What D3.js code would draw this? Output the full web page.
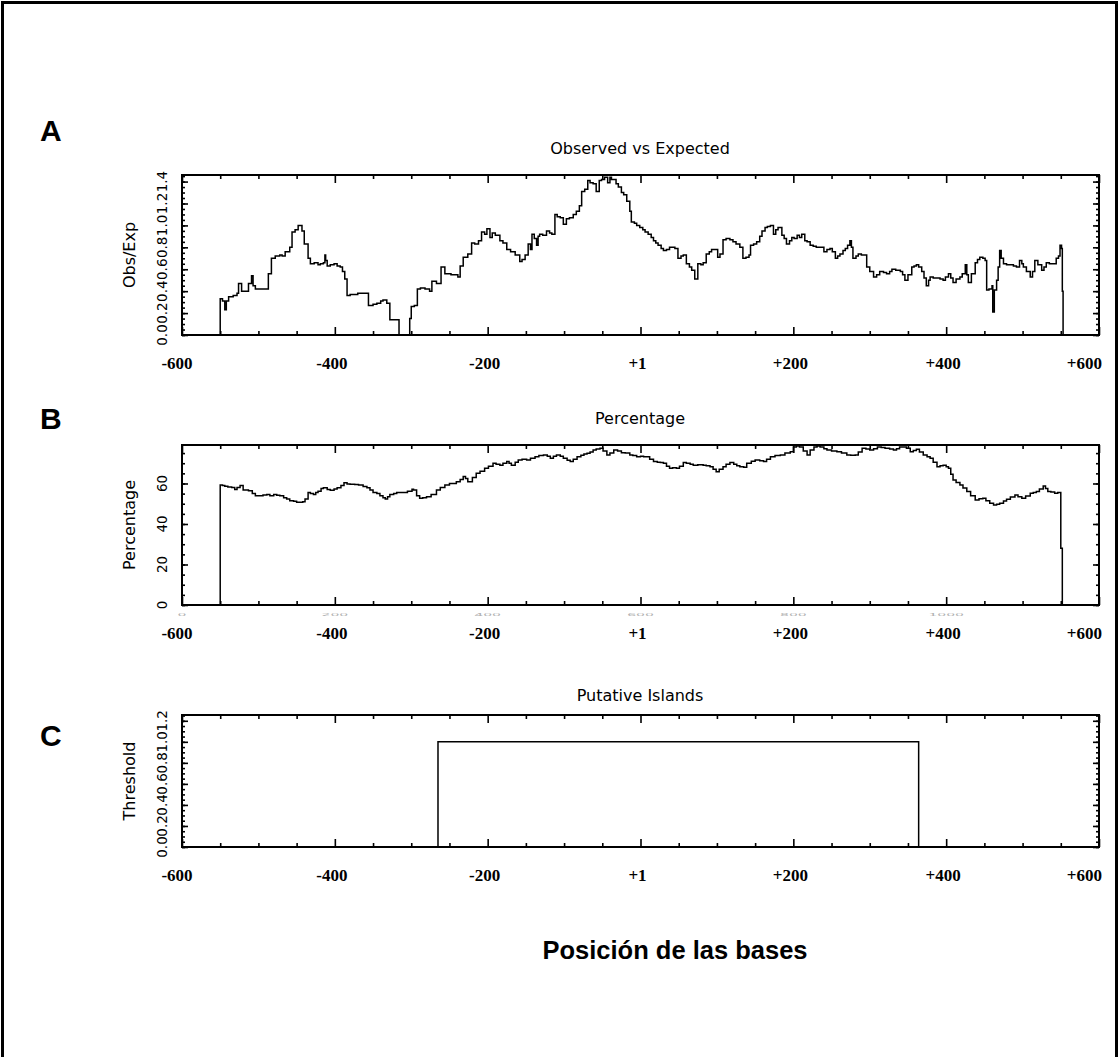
<!DOCTYPE html>
<html><head><meta charset="utf-8">
<script src="https://cdn.jsdelivr.net/npm/d3@7"></script>
<style>body{margin:0;background:#fff;} svg{display:block;}</style>
</head><body><svg id="c" width="1119" height="1057"></svg>
<script>
// ---------- DATA ----------
const xTickLabels = ["-600","-400","-200","+1","+200","+400","+600"];
const xTickValues = [0,200,400,600,800,1000,1200];
const hiddenTickLabels = ["0","200","400","600","800","1000"];
const panelLetters = ["A","B","C"];
const panelTitles = ["Observed vs Expected","Percentage","Putative Islands"];
const yAxisTitles = ["Obs/Exp","Percentage","Threshold"];
const xAxisTitle = "Posición de las bases";

const obsExpPos = [50,50,53,56,58,61,67,72,74,76,78,85,87,91,93,96,111,113,117,122,128,131,135,141,144,148,152,157,160,165,168,173,178,181,185,187,188,190,194,199,203,207,210,213,216,220,230,242,244,250,255,260,263,268,272,283,284,296,
298,300,304,308,312,318,324,327,333,339,344,352,361,364,368,374,379,383,388,392,396,399,403,406,410,416,420,425,430,436,442,445,449,453,456,458,461,464,466,468,472,477,481,484,488,491,495,499,503,507,512,516,520,523,527,531,534,538,542,546,549,553,557,560,562,566,568,571,575,578,582,586,588,592,595,599,603,606,610,614,617,620,623,627,630,634,638,642,645,649,653,656,660,664,667,671,675,679,682,686,690,693,697,701,704,708,712,717,
721,725,730,734,738,742,744,748,752,756,759,763,766,770,774,777,780,785,788,791,795,798,801,805,808,811,815,818,822,826,830,835,840,844,848,851,855,858,861,865,868,871,874,876,878,882,885,889,892,896,900,905,909,913,918,922,926,929,934,940,943,946,950,955,958,961,964,968,971,974,977,979,983,988,992,996,999,1003,1006,1009,1013,1018,1021,1025,1027,1029,1033,1038,1041,1044,1048,1051,1053,1056,1060,1061,1063,1066,1068,1070,1072,1075,1079,1083,1088,1092,1096,1099,1101,1105,1110,1113,1116,1120,1125,1128,1131,1135,1140,1144,1147,1149,1151,1152,1153];
const obsExpVal = [0,0.33,0.31,0.23,0.31,0.35,0.36,0.38,0.47,0.47,0.40,0.40,0.47,0.54,0.45,0.42,0.42,0.56,0.70,0.72,0.73,0.72,0.76,0.80,0.94,0.96,1.00,0.95,0.83,0.70,0.65,0.66,0.64,0.65,0.66,0.73,0.68,0.63,0.64,0.65,0.63,0.62,0.58,0.51,0.36,0.37,0.38,0.38,0.27,0.28,0.29,0.31,0.32,0.29,0.14,0.14,0,0,
0.15,0.26,0.27,0.42,0.43,0.42,0.40,0.49,0.47,0.62,0.56,0.55,0.53,0.63,0.71,0.74,0.84,0.83,0.86,0.94,0.92,0.97,0.89,0.93,0.91,0.86,0.84,0.78,0.76,0.73,0.67,0.69,0.73,0.83,0.78,0.92,0.88,0.82,0.90,0.92,0.91,0.95,0.93,0.92,1.10,1.08,1.07,1.01,1.06,1.07,1.10,1.13,1.18,1.31,1.33,1.41,1.39,1.38,1.31,1.41,1.42,1.44,1.39,1.44,1.42,1.42,1.38,1.35,1.30,1.28,1.22,1.13,1.03,1.02,1.00,0.98,0.96,0.94,0.92,0.89,0.86,0.84,0.82,0.79,0.77,0.78,0.80,0.80,0.79,0.70,0.72,0.73,0.65,0.62,0.59,0.51,0.65,0.64,0.66,0.74,0.76,0.78,0.78,0.71,0.74,0.87,0.88,0.87,
0.85,0.83,0.80,0.70,0.71,0.73,0.82,0.83,0.85,0.90,0.95,0.98,0.99,1.00,0.92,0.96,0.98,0.91,0.88,0.83,0.86,0.89,0.88,0.91,0.89,0.92,0.86,0.85,0.82,0.81,0.80,0.80,0.76,0.78,0.79,0.76,0.70,0.72,0.74,0.77,0.79,0.82,0.86,0.80,0.70,0.72,0.74,0.73,0.73,0.62,0.58,0.53,0.55,0.58,0.57,0.56,0.58,0.60,0.59,0.58,0.55,0.50,0.55,0.62,0.63,0.64,0.62,0.58,0.52,0.45,0.50,0.53,0.52,0.52,0.51,0.50,0.53,0.56,0.52,0.48,0.51,0.53,0.56,0.64,0.55,0.48,0.56,0.66,0.69,0.71,0.70,0.68,0.41,0.42,0.45,0.21,0.41,0.50,0.62,0.77,0.70,0.65,0.64,0.64,0.63,0.62,0.68,0.65,0.62,0.58,0.53,0.58,0.68,0.64,0.59,0.62,0.66,0.65,0.65,0.70,0.72,0.82,0.79,0.40,0];

const percentPos = [50,50,53,56,60,65,69,72,76,80,87,92,96,102,106,111,115,120,124,128,133,137,141,146,150,155,158,161,165,168,172,175,178,182,185,190,194,199,203,208,212,216,220,226,231,237,242,246,250,255,259,263,266,269,272,277,281,285,290,295,301,303,307,311,315,320,326,333,338,344,350,359,364,368,371,374,380,385,390,396,401,407,411,416,420,425,428,431,436,440,445,451,456,462,467,473,478,482,486,490,495,499,504,508,512,517,522,526,530,534,538,542,547,551,556,560,565,570,575,580,586,590,595,600,604,608,612,617,622,626,630,634,638,642,647,651,656,660,665,669,675,682,686,691,695,699,703,708,712,717,722,726,730,735,739,745,750,756,761,765,770,776,783,789,796,800,804,808,813,818,822,827,831,835,840,844,850,857,863,870,875,881,885,890,895,900,905,910,915,920,926,931,935,939,944,948,953,957,961,965,970,975,979,983,988,992,996,1000,1003,1006,1009,1013,1018,1022,1027,1032,1038,1043,1048,1052,1057,1062,1066,1070,1075,1079,1084,1090,1094,1099,1104,1110,1114,1118,1122,1127,1130,1133,1137,1142,1146,1149,1150,1152,1152];
const percentVal = [0,59.3,59,58.6,58.3,58,57,58,59,56.8,56.4,55,54,54,54.3,54.6,54,54.6,54.2,54,53,52.3,51.5,51.2,50.7,50.7,51,52.3,55.6,55,54.6,55.5,56.2,57.5,57.9,57,56.6,57.3,57.9,59,60.4,59.8,59.6,59.5,59.3,58.5,57.9,56.8,55.6,55,54,53,52.3,53.5,54.6,55,55.6,55.6,55.6,56.2,57.1,56.8,54,52.7,53,53.5,54.5,56.8,58,59.3,60,60.9,62,63.4,62.5,60.9,63,65,66,67.5,68.5,70,69.5,69,70,70.8,70,69,70.5,71.6,72,71.6,72.5,73.2,73.8,74.1,73.5,72.4,73.5,74.1,73.5,72.4,71.5,70.8,72,73.2,74,74.5,74.9,75.5,76.5,77,77.4,76,74.1,75,76.5,76,75.2,75,74.1,73.8,73.2,73.5,73.2,73.2,72,70.8,70.5,70.3,70,68.5,67.5,67.8,67.5,68.5,70.3,70,69.5,69,69.2,69,68.8,68.3,67,65.8,67,68.3,69.5,70.3,69.5,68.8,68.3,68,70,71,71.6,71.2,70.8,72,73.2,73.8,74.1,75,75.7,78,78.5,78,76,74.1,76.5,78,78.5,78,77.2,76.5,76,75.7,75,74.1,74,74.1,75.5,77.4,77,76.5,77.2,78,77.8,77.4,77,76.5,77.2,78,78,77.4,75.7,76.3,76.9,75.5,74.1,73.2,72.4,70.5,68.3,68.8,69,68.3,67.5,64.5,61.7,60.5,59.3,57.8,56,54,51.9,52.5,52.7,51.5,50.2,49.4,49.8,50.2,51.3,52.2,53.3,54.3,53.5,52.7,53.8,55.2,55.6,56,57.3,58.8,57.5,56,55.8,55.2,55.5,55.5,28,28,0];

const islandPos = [50,335,335,964,964,1150];
const islandVal = [0,0,1,1,0,0];

const obsExpTicks = [0,0.2,0.4,0.6,0.8,1.0,1.2,1.4];
const percentTicks = [0,20,40,60];
const thresholdTicks = [0,0.2,0.4,0.6,0.8,1.0,1.2];

// ---------- LAYOUT ----------
const svg = d3.select("#c");
svg.append("rect").attr("width",1119).attr("height",1057).attr("fill","#fff");
svg.append("path").attr("d","M2.5,1070V2.5H1116.5V1070")
  .attr("fill","none").attr("stroke","#000").attr("stroke-width",3);

const x = d3.scaleLinear().domain([0,1200]).range([182,1099]);

const panels = [
  {top:175, h:160, ymax:1.46, pos:obsExpPos, val:obsExpVal, ticks:obsExpTicks, fmt:d3.format(".1f"), minor:0.05, step:true, letterY:130, titleY:148},
  {top:445, h:160, ymax:79, pos:percentPos, val:percentVal, ticks:percentTicks, fmt:d3.format("d"), minor:5, step:true, letterY:418, titleY:418},
  {top:715, h:132, ymax:1.255, pos:islandPos, val:islandVal, ticks:thresholdTicks, fmt:d3.format(".1f"), minor:0.05, step:false, letterY:735, titleY:695}
];

const FONT = "'DejaVu Sans', sans-serif";

panels.forEach((p,i)=>{
  const bottom = p.top + p.h;
  const y = d3.scaleLinear().domain([0,p.ymax]).range([bottom, p.top]);
  const g = svg.append("g");
  const clipId = "clip"+i;
  svg.append("clipPath").attr("id",clipId).append("rect")
    .attr("x",182).attr("y",p.top-1).attr("width",917).attr("height",p.h+2);

  const pts = p.pos.map((d,k)=>[d,p.val[k]]);
  const line = d3.line().x(d=>x(d[0])).y(d=>y(d[1]))
    .curve(p.step ? d3.curveStepAfter : d3.curveLinear);
  g.append("path").datum(pts).attr("d",line)
    .attr("clip-path",`url(#${clipId})`)
    .attr("fill","none").attr("stroke","#000").attr("stroke-width",1.5)
    .attr("stroke-linejoin","miter");

  // axes (inward ticks)
  const xMajor = d3.range(0,1201,200), xMinor = d3.range(0,1201,50).filter(v=>v%200);
  const yMinor = d3.range(0,p.ymax+1e-9,p.minor);
  const mk = (axis, vals, size, tr) => {
    const a = g.append("g").attr("transform",tr)
      .call(axis.tickValues(vals).tickSize(size).tickSizeOuter(0).tickFormat(""));
    a.select(".domain").remove();
    a.selectAll("line").attr("stroke-width",1.6);
  };
  mk(d3.axisBottom(x), xMajor, -8, `translate(0,${bottom})`);
  mk(d3.axisBottom(x), xMinor, -4, `translate(0,${bottom})`);
  mk(d3.axisTop(x), xMajor, -8, `translate(0,${p.top})`);
  mk(d3.axisTop(x), xMinor, -4, `translate(0,${p.top})`);
  mk(d3.axisLeft(y), p.ticks, -6, `translate(182,0)`);
  mk(d3.axisLeft(y), yMinor, -3, `translate(182,0)`);
  mk(d3.axisRight(y), p.ticks, -6, `translate(1099,0)`);
  mk(d3.axisRight(y), yMinor, -3, `translate(1099,0)`);

  g.append("rect").attr("x",182).attr("y",p.top).attr("width",917).attr("height",p.h)
    .attr("fill","none").attr("stroke","#000").attr("stroke-width",2);

  // y tick labels (rotated)
  g.selectAll("text.yt").data(p.ticks).join("text").attr("class","yt")
    .attr("transform",d=>`translate(162,${y(d)}) rotate(-90)`)
    .attr("text-anchor","middle").attr("dominant-baseline","central")
    .attr("font-family",FONT).attr("font-size",13.5).text(p.fmt);

  // y axis title
  g.append("text").attr("transform",`translate(129,${p.top+p.h/2}) rotate(-90)`)
    .attr("text-anchor","middle").attr("dominant-baseline","central")
    .attr("font-family",FONT).attr("font-size",16).text(yAxisTitles[i]);

  // panel title
  g.append("text").attr("x",640).attr("y",p.titleY).attr("text-anchor","middle")
    .attr("dominant-baseline","central").attr("font-family",FONT).attr("font-size",16)
    .text(panelTitles[i]);

  // panel letter
  g.append("text").attr("x",40).attr("y",p.letterY).attr("dominant-baseline","central")
    .attr("font-family","'Liberation Sans', Arial, sans-serif").attr("font-weight","bold")
    .attr("font-size",30).text(panelLetters[i]);

  // x labels (custom, bold serif)
  g.selectAll("text.xl").data(xTickValues).join("text").attr("class","xl")
    .attr("x",(d,k)=> k===xTickValues.length-1 ? x(d)+3 : x(d)-3 - (k===0?2:0))
    .attr("y",bottom+34)
    .attr("text-anchor",(d,k)=> k===xTickValues.length-1 ? "end" : "middle")
    .attr("font-family","'Liberation Serif', 'Times New Roman', serif").attr("font-weight","bold")
    .attr("font-size",17).text((d,k)=>xTickLabels[k]);

  // faint, mostly hidden original tick labels (panel B only): only a thin sliver shows
  if (i===1) {
    g.append("g").selectAll("text").data(hiddenTickLabels).join("text")
      .attr("transform",(d,k)=>`translate(${x(xTickValues[k])},${bottom+9}) scale(1,0.18)`)
      .attr("text-anchor","middle").attr("dominant-baseline","hanging")
      .attr("font-family",FONT).attr("font-size",14).attr("fill","#b0b0b0").text(d=>d);
  }
});

svg.append("text").attr("x",675).attr("y",950).attr("text-anchor","middle")
  .attr("dominant-baseline","central")
  .attr("font-family","'Liberation Sans', Arial, sans-serif").attr("font-weight","bold")
  .attr("font-size",25.5).text(xAxisTitle);
</script>
</body></html>
